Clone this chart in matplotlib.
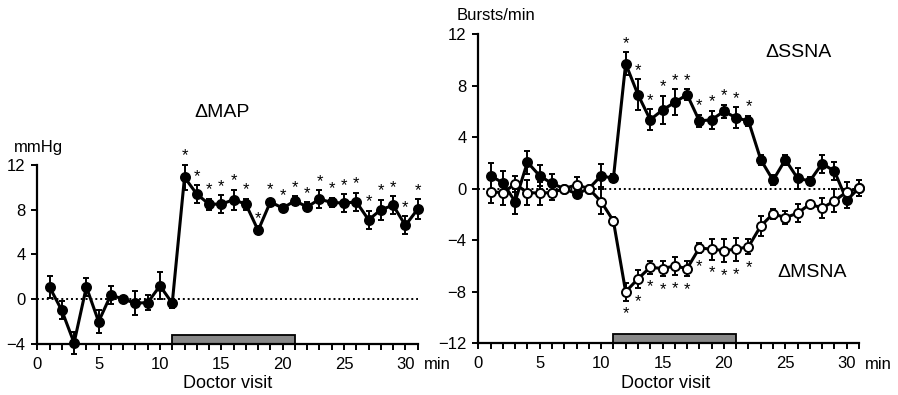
import matplotlib
matplotlib.use("Agg")
import matplotlib.pyplot as plt
from matplotlib.patches import Rectangle
from matplotlib.ticker import MultipleLocator

plt.rcParams['font.family'] = ['Liberation Sans', 'DejaVu Sans']

minutes = list(range(1, 32))

# ΔMAP (mmHg)
map_mean = [1.1, -1.0, -3.9, 1.1, -2.0, 0.4, 0.0, -0.35, -0.3, 1.2, -0.35,
            10.9, 9.4, 8.5, 8.5, 8.9, 8.5, 6.15, 8.7, 8.15, 8.8, 8.25, 8.95,
            8.65, 8.6, 8.7, 7.1, 8.0, 8.4, 6.6, 8.05]
map_err = [0.95, 0.8, 1.0, 0.8, 1.0, 0.8, 0.2, 1.05, 0.7, 1.2, 0.4,
           1.1, 0.8, 0.5, 0.8, 0.9, 0.5, 0.3, 0.3, 0.3, 0.4, 0.4, 0.8,
           0.4, 0.8, 0.8, 0.8, 0.9, 0.8, 0.8, 0.9]
map_sig = list(range(12, 32))

# ΔSSNA (bursts/min)
ssna_mean = [1.0, 0.45, -1.0, 2.05, 1.0, 0.4, 0.0, -0.4, 0.0, 1.0, 0.8,
             9.7, 7.3, 5.35, 6.1, 6.7, 7.3, 5.25, 5.35, 6.0, 5.5, 5.25, 2.25,
             0.65, 2.25, 0.8, 0.6, 1.95, 1.35, -0.9, 0.05]
ssna_err = [1.0, 0.9, 1.0, 0.9, 0.8, 0.7, 0.2, 0.3, 0.2, 0.9, 0.3,
            0.9, 1.2, 0.8, 1.1, 1.0, 0.4, 0.5, 0.7, 0.5, 0.8, 0.4, 0.4,
            0.4, 0.4, 0.8, 0.3, 0.7, 0.7, 0.6, 0.6]
ssna_sig = list(range(12, 23))

# ΔMSNA (bursts/min)
msna_mean = [-0.25, -0.3, 0.35, -0.3, -0.35, -0.3, 0.0, 0.3, 0.0, -1.0, -2.5,
             -8.0, -7.0, -6.1, -6.2, -6.0, -6.2, -4.6, -4.7, -4.8, -4.7, -4.5,
             -2.9, -1.95, -2.25, -1.9, -1.2, -1.5, -0.95, -0.25, 0.05]
msna_err = [0.9, 1.0, 0.6, 1.0, 0.9, 0.6, 0.2, 0.6, 0.2, 1.0, 0.3,
            0.7, 0.7, 0.5, 0.6, 0.7, 0.6, 0.4, 0.8, 0.9, 0.9, 0.6,
            0.8, 0.4, 0.5, 0.7, 0.2, 0.8, 0.9, 0.8, 0.6]
msna_sig = list(range(12, 23))

visit = (11, 21)

fig = plt.figure(figsize=(8.98, 3.95), dpi=100)
axL = fig.add_axes([0.0415, 0.1291, 0.4236, 0.4532])
axR = fig.add_axes([0.5326, 0.1309, 0.4240, 0.7830])


def style_axis(ax, ylim, yticks, bar_h):
    ax.set_xlim(0, 31)
    ax.set_ylim(*ylim)
    for s in ['top', 'right']:
        ax.spines[s].set_visible(False)
    for s in ['left', 'bottom']:
        ax.spines[s].set_linewidth(1.6)
    ax.set_yticks(yticks)
    ax.xaxis.set_major_locator(MultipleLocator(5))
    ax.xaxis.set_minor_locator(MultipleLocator(1))
    ax.tick_params(axis='both', which='both', direction='out', width=1.4,
                   labelsize=12)
    ax.tick_params(axis='y', length=4, pad=4.5)
    ax.tick_params(axis='x', which='both', length=4, pad=5.5)
    ax.axhline(0, color='black', ls=(0, (1, 1.5)), lw=1.4, zorder=1)
    ax.add_patch(Rectangle((visit[0], ylim[0]), visit[1] - visit[0], bar_h,
                           facecolor='#888888', edgecolor='black', lw=1.3,
                           clip_on=False, zorder=2))


def draw_series(ax, mean, err, filled):
    parts = ax.errorbar(minutes, mean, yerr=err, color='black', lw=2.2,
                        elinewidth=1.4, capsize=2.5, capthick=1.4,
                        marker='o', ms=6.5, mec='black', mew=1.4,
                        mfc='black' if filled else 'white',
                        zorder=3 if filled else 4)
    for art in parts.get_children():
        art.set_clip_on(False)


def stars(ax, mean, err, sig, above=True):
    for m in sig:
        i = m - 1
        if above:
            ax.annotate('*', (m, mean[i] + err[i]), xytext=(0, 1),
                        textcoords='offset points', ha='center', va='bottom',
                        fontsize=12)
        else:
            ax.annotate('*', (m, mean[i] - err[i]), xytext=(0, -15),
                        textcoords='offset points', ha='center', va='bottom',
                        fontsize=12)


# left: MAP
style_axis(axL, (-4, 12), [-4, 0, 4, 8, 12], 0.8)
draw_series(axL, map_mean, map_err, True)
stars(axL, map_mean, map_err, map_sig)

# right: SSNA / MSNA
style_axis(axR, (-12, 12), [-12, -8, -4, 0, 4, 8, 12], 0.7)
draw_series(axR, ssna_mean, ssna_err, True)
draw_series(axR, msna_mean, msna_err, False)
stars(axR, ssna_mean, ssna_err, ssna_sig)
stars(axR, msna_mean, msna_err, msna_sig, above=False)

# labels
fig.text(0.043, 0.626, 'mmHg', ha='center', va='center', fontsize=12)
fig.text(0.247, 0.714, '\u0394MAP', ha='center', va='center', fontsize=14)
fig.text(0.472, 0.076, 'min', ha='left', va='center', fontsize=12)
fig.text(0.254, 0.028, 'Doctor visit', ha='center', va='center', fontsize=13)

fig.text(0.552, 0.960, 'Bursts/min', ha='center', va='center', fontsize=12)
fig.text(0.889, 0.866, '\u0394SSNA', ha='center', va='center', fontsize=14)
fig.text(0.904, 0.311, '\u0394MSNA', ha='center', va='center', fontsize=14)
fig.text(0.963, 0.076, 'min', ha='left', va='center', fontsize=12)
fig.text(0.741, 0.028, 'Doctor visit', ha='center', va='center', fontsize=13)

fig.savefig('out.png', dpi=100)
